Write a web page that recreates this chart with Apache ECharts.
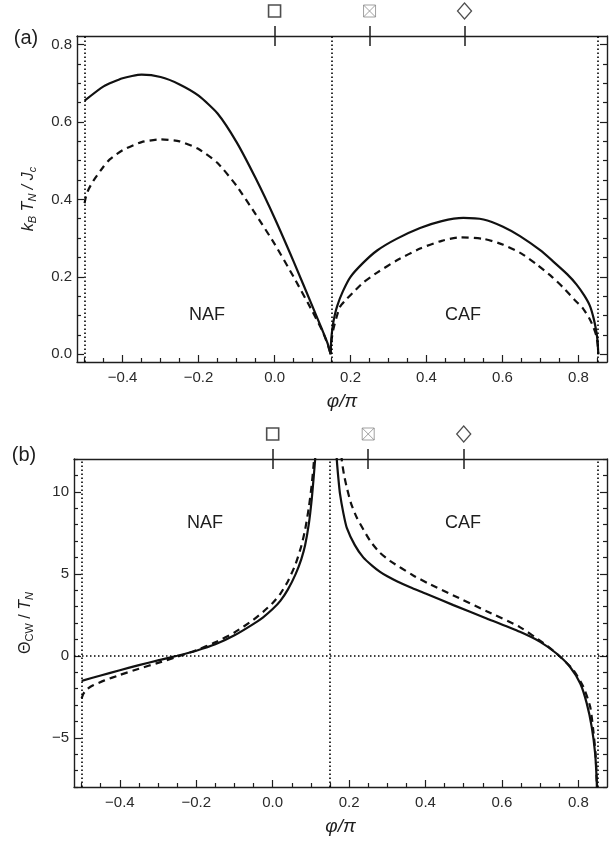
<!DOCTYPE html>
<html>
<head>
<meta charset="utf-8">
<script src="https://cdn.jsdelivr.net/npm/echarts@6/dist/echarts.min.js"></script>
<style>html,body{margin:0;padding:0;background:#fff}#c{width:612px;height:842px}</style>
</head>
<body>
<div id="c"></div>
<script>
// ---------- data ----------
const phaseBoundaries = [-0.5, 0.1476, 0.852];
const markerX = [0, 0.25, 0.5];

const xMajor = [-0.4, -0.2, 0.0, 0.2, 0.4, 0.6, 0.8];
const yMajorA = [0.0, 0.2, 0.4, 0.6, 0.8];
const yMajorB = [-5, 0, 5, 10];

// (a) k_B T_N / J_c
const aNafSolidX = [-0.5,-0.45,-0.4,-0.35,-0.3,-0.25,-0.2,-0.15,-0.1,-0.05,0,0.05,0.1,0.125,0.14,0.1476];
const aNafSolidY = [0.655,0.692,0.713,0.722,0.716,0.697,0.668,0.622,0.548,0.455,0.352,0.24,0.123,0.064,0.027,0.0];
const aNafDashX = [-0.5,-0.497,-0.49,-0.477,-0.45,-0.433,-0.4,-0.35,-0.3,-0.25,-0.2,-0.15,-0.1,-0.05,0,0.05,0.1,0.125,0.14,0.1476];
const aNafDashY = [0.39,0.405,0.425,0.448,0.485,0.504,0.527,0.548,0.555,0.55,0.53,0.494,0.435,0.362,0.285,0.2,0.11,0.062,0.025,0.0];
const aCafSolidX = [0.1476,0.149,0.152,0.156,0.165,0.18,0.2,0.233,0.27,0.321,0.383,0.44,0.497,0.55,0.6,0.646,0.7,0.733,0.77,0.795,0.815,0.83,0.84,0.847,0.8505,0.852];
const aCafSolidY = [0,0.035,0.065,0.09,0.125,0.163,0.2,0.236,0.268,0.298,0.326,0.344,0.352,0.348,0.33,0.305,0.268,0.24,0.207,0.18,0.152,0.125,0.092,0.058,0.03,0.0];
const aCafDashX = [0.1476,0.149,0.152,0.156,0.163,0.172,0.19,0.21,0.233,0.27,0.321,0.383,0.44,0.49,0.55,0.602,0.65,0.69,0.73,0.76,0.79,0.812,0.83,0.84,0.847,0.8505,0.852];
const aCafDashY = [0,0.028,0.05,0.07,0.095,0.122,0.143,0.163,0.185,0.211,0.242,0.273,0.293,0.302,0.298,0.283,0.26,0.232,0.2,0.172,0.14,0.118,0.09,0.068,0.047,0.025,0];

// (b) Theta_CW / T_N
const bNafSolidX = [-0.5,-0.45,-0.4,-0.35,-0.3,-0.25,-0.2,-0.15,-0.1,-0.05,-0.025,0,0.02,0.04,0.06,0.075,0.085,0.095,0.102,0.107,0.111,0.114];
const bNafSolidY = [-1.53,-1.2,-0.88,-0.57,-0.28,0.0,0.31,0.7,1.25,1.95,2.35,2.85,3.35,4.05,4.98,5.9,6.75,8.1,9.5,10.8,11.95,13];
const bNafDashX = [-0.5,-0.495,-0.485,-0.47,-0.44,-0.4,-0.35,-0.3,-0.25,-0.2,-0.15,-0.1,-0.05,-0.025,0,0.02,0.04,0.06,0.075,0.085,0.095,0.102,0.107,0.11,0.112];
const bNafDashY = [-2.6,-2.3,-2.02,-1.8,-1.5,-1.17,-0.79,-0.43,-0.06,0.34,0.82,1.42,2.2,2.68,3.22,3.78,4.55,5.6,6.7,7.7,9.1,10.4,11.6,12.5,13.2];
const bCafSolidX = [0.1655,0.168,0.172,0.176,0.185,0.194,0.215,0.237,0.26,0.281,0.3,0.325,0.36,0.4,0.473,0.56,0.647,0.7,0.743,0.778,0.805,0.822,0.835,0.844,0.848,0.8495];
const bCafSolidY = [13,11.9,10.8,9.9,8.7,7.8,6.75,6.0,5.5,5.12,4.85,4.55,4.18,3.8,3.09,2.28,1.46,0.85,0.14,-0.67,-1.69,-2.9,-4.33,-5.96,-7.6,-9];
const bCafDashX = [0.178,0.181,0.187,0.194,0.205,0.22,0.255,0.28,0.307,0.368,0.41,0.473,0.56,0.647,0.708,0.743,0.787,0.813,0.831,0.839,0.845,0.848,0.8495];
const bCafDashY = [13,11.9,11,10.26,9.3,8.43,7.01,6.3,5.79,4.9,4.38,3.68,2.72,1.75,0.78,0.14,-0.87,-1.89,-3.11,-4.53,-5.96,-7.6,-9];

// ---------- helpers ----------
const FONT = '"Liberation Sans", Arial, Helvetica, sans-serif';
const INK = '#1e1e1e';
const zip = (xs, ys) => xs.map((x, i) => [x, ys[i]]);
function minorVals(min, max, step, majors) {
  const out = [];
  const n0 = Math.ceil(min / step - 1e-9), n1 = Math.floor(max / step + 1e-9);
  for (let k = n0; k <= n1; k++) {
    const v = +(k * step).toFixed(6);
    if (!majors.some(m => Math.abs(m - v) < 1e-9)) out.push(v);
  }
  return out;
}
const fmtSigned = d => v => (v < 0 ? '\u2212' : '') + Math.abs(v).toFixed(d);

const X_MIN = -0.52, X_MAX = 0.875;
const YA = [-0.02, 0.822], YB = [-8, 12];
const xMinor = minorVals(X_MIN, X_MAX, 0.05, xMajor);
const yMinorA = minorVals(YA[0], YA[1], 0.05, yMajorA);
const yMinorB = minorVals(YB[0], YB[1], 1, yMajorB);

const lineOn = { show: true, onZero: false, lineStyle: { color: INK, width: 1.4 } };
const lineOff = { show: false, onZero: false };
const tickStyle = { color: INK, width: 1.2 };
const labelStyle = { color: '#2a2a2a', fontSize: 15, fontFamily: FONT };

function xAxesFor(g, nameGap) {
  return [
    { gridIndex: g, type: 'value', min: X_MIN, max: X_MAX, position: 'bottom',
      axisLine: lineOn,
      axisTick: { show: true, inside: true, length: 7, lineStyle: tickStyle, customValues: xMajor },
      axisLabel: { show: true, customValues: xMajor, formatter: fmtSigned(1), margin: 8, ...labelStyle },
      splitLine: { show: false },
      name: 'φ/π', nameLocation: 'middle', nameGap: nameGap,
      nameTextStyle: { fontSize: 19, fontStyle: 'italic', fontFamily: FONT, color: INK } },
    { gridIndex: g, type: 'value', min: X_MIN, max: X_MAX, position: 'bottom',
      axisLine: lineOff,
      axisTick: { show: true, inside: true, length: 4, lineStyle: tickStyle, customValues: xMinor },
      axisLabel: { show: false }, splitLine: { show: false } },
    { gridIndex: g, type: 'value', min: X_MIN, max: X_MAX, position: 'top',
      axisLine: lineOn,
      axisTick: { show: true, inside: false, length: 10, lineStyle: { color: INK, width: 1.5 }, customValues: markerX },
      axisLabel: { show: false }, splitLine: { show: false } },
    { gridIndex: g, type: 'value', min: X_MIN, max: X_MAX, position: 'top',
      axisLine: lineOff,
      axisTick: { show: true, inside: true, length: 10, lineStyle: { color: INK, width: 1.5 }, customValues: markerX },
      axisLabel: { show: false }, splitLine: { show: false } }
  ];
}
function yAxesFor(g, ext, majors, minors, fmt, name, rich) {
  return [
    { gridIndex: g, type: 'value', min: ext[0], max: ext[1], position: 'left',
      axisLine: lineOn,
      axisTick: { show: true, inside: true, length: 7, lineStyle: tickStyle, customValues: majors },
      axisLabel: { show: true, customValues: majors, formatter: fmt, margin: 5, ...labelStyle },
      splitLine: { show: false },
      name: name, nameLocation: 'middle', nameGap: 38, nameRotate: 90,
      nameTextStyle: { rich: rich } },
    { gridIndex: g, type: 'value', min: ext[0], max: ext[1], position: 'left',
      axisLine: lineOff,
      axisTick: { show: true, inside: true, length: 4, lineStyle: tickStyle, customValues: minors },
      axisLabel: { show: false }, splitLine: { show: false } },
    { gridIndex: g, type: 'value', min: ext[0], max: ext[1], position: 'right',
      axisLine: lineOn,
      axisTick: { show: true, inside: true, length: 7, lineStyle: tickStyle, customValues: majors },
      axisLabel: { show: false }, splitLine: { show: false } },
    { gridIndex: g, type: 'value', min: ext[0], max: ext[1], position: 'right',
      axisLine: lineOff,
      axisTick: { show: true, inside: true, length: 4, lineStyle: tickStyle, customValues: minors },
      axisLabel: { show: false }, splitLine: { show: false } }
  ];
}

const richA = {
  i: { fontSize: 16, fontStyle: 'italic', fontFamily: FONT, color: INK, lineHeight: 20 },
  s: { fontSize: 11, fontStyle: 'italic', fontFamily: FONT, color: INK, lineHeight: 12, padding: [8, 0, 0, 0] }
};
const richB = {
  r: { fontSize: 16, fontFamily: FONT, color: INK, lineHeight: 20 },
  rs: { fontSize: 11, fontFamily: FONT, color: INK, lineHeight: 12, padding: [8, 0, 0, 0] },
  i: { fontSize: 16, fontStyle: 'italic', fontFamily: FONT, color: INK, lineHeight: 20 },
  s: { fontSize: 11, fontStyle: 'italic', fontFamily: FONT, color: INK, lineHeight: 12, padding: [8, 0, 0, 0] }
};

const dotted = { type: [1.5, 2.5], color: '#000', width: 1.6 };
function boundaryMarks(extraY) {
  const data = phaseBoundaries.map(v => ({ xAxis: v }));
  if (extraY !== undefined) data.push({ yAxis: extraY });
  return { silent: true, symbol: 'none', label: { show: false }, lineStyle: dotted,
           emphasis: { disabled: true }, data: data };
}

function curve(xi, yi, xs, ys, dashed, extra) {
  return Object.assign({
    type: 'line', xAxisIndex: xi, yAxisIndex: yi, data: zip(xs, ys),
    showSymbol: false, smooth: 0.2, clip: true,
    lineStyle: { color: '#111', width: 2.2, type: dashed ? [7, 5] : 'solid' },
    emphasis: { disabled: true }
  }, extra || {});
}

const markerStyles = [
  { symbol: 'path://M0,0H10V10H0Z', symbolSize: [12, 12], itemStyle: { color: 'rgba(0,0,0,0)', borderColor: '#222', borderWidth: 1.6 } },
  { symbol: 'path://M0,0H10V10H0Z M0,0L10,10 M10,0L0,10', symbolSize: [12, 12], itemStyle: { color: 'rgba(0,0,0,0)', borderColor: '#8a8a8a', borderWidth: 1 } },
  { symbol: 'path://M5,0L10,6.5L5,13L0,6.5Z', symbolSize: [14, 16], itemStyle: { color: 'rgba(0,0,0,0)', borderColor: '#222', borderWidth: 1.3 } }
];
function markers(xi, yi, yTop) {
  return { type: 'scatter', xAxisIndex: xi, yAxisIndex: yi, clip: false, silent: true,
    symbolOffset: [0, -25],
    data: markerX.map((x, i) => Object.assign({ value: [x, yTop] }, markerStyles[i])) };
}

const txt = (x, y, t, size) => ({ type: 'text', x: x, y: y, silent: true,
  style: { text: t, fontSize: size, fontFamily: FONT, fill: INK, align: 'center', verticalAlign: 'middle',
           textAlign: 'center', textVerticalAlign: 'middle' } });

const option = {
  animation: false,
  backgroundColor: '#fff',
  grid: [
    { left: 77, top: 36, width: 530, height: 326, containLabel: false },
    { left: 74, top: 459, width: 533, height: 328, containLabel: false }
  ],
  xAxis: [...xAxesFor(0, 30), ...xAxesFor(1, 30)],
  yAxis: [
    ...yAxesFor(0, YA, yMajorA, yMinorA, fmtSigned(1),
      '{i|k}{s|B}{i| T}{s|N}{i| / J}{s|c}', richA),
    ...yAxesFor(1, YB, yMajorB, yMinorB, fmtSigned(0),
      '{r|Θ}{rs|CW}{r| / }{i|T}{s|N}', richB)
  ],
  series: [
    curve(0, 0, aNafSolidX, aNafSolidY, false, { markLine: boundaryMarks() }),
    curve(0, 0, aNafDashX, aNafDashY, true),
    curve(0, 0, aCafSolidX, aCafSolidY, false),
    curve(0, 0, aCafDashX, aCafDashY, true),
    markers(0, 0, YA[1]),
    curve(4, 4, bNafSolidX, bNafSolidY, false, { markLine: boundaryMarks(0) }),
    curve(4, 4, bNafDashX, bNafDashY, true),
    curve(4, 4, bCafSolidX, bCafSolidY, false),
    curve(4, 4, bCafDashX, bCafDashY, true),
    markers(4, 4, YB[1])
  ],
  graphic: [
    txt(26, 38, '(a)', 20),
    txt(24, 455, '(b)', 20),
    txt(207, 315, 'NAF', 18),
    txt(463, 315, 'CAF', 18),
    txt(205, 523, 'NAF', 18),
    txt(463, 523, 'CAF', 18)
  ]
};

const chart = echarts.init(document.getElementById('c'), null, { renderer: 'canvas', width: 612, height: 842 });
chart.setOption(option);
</script>
</body>
</html>
